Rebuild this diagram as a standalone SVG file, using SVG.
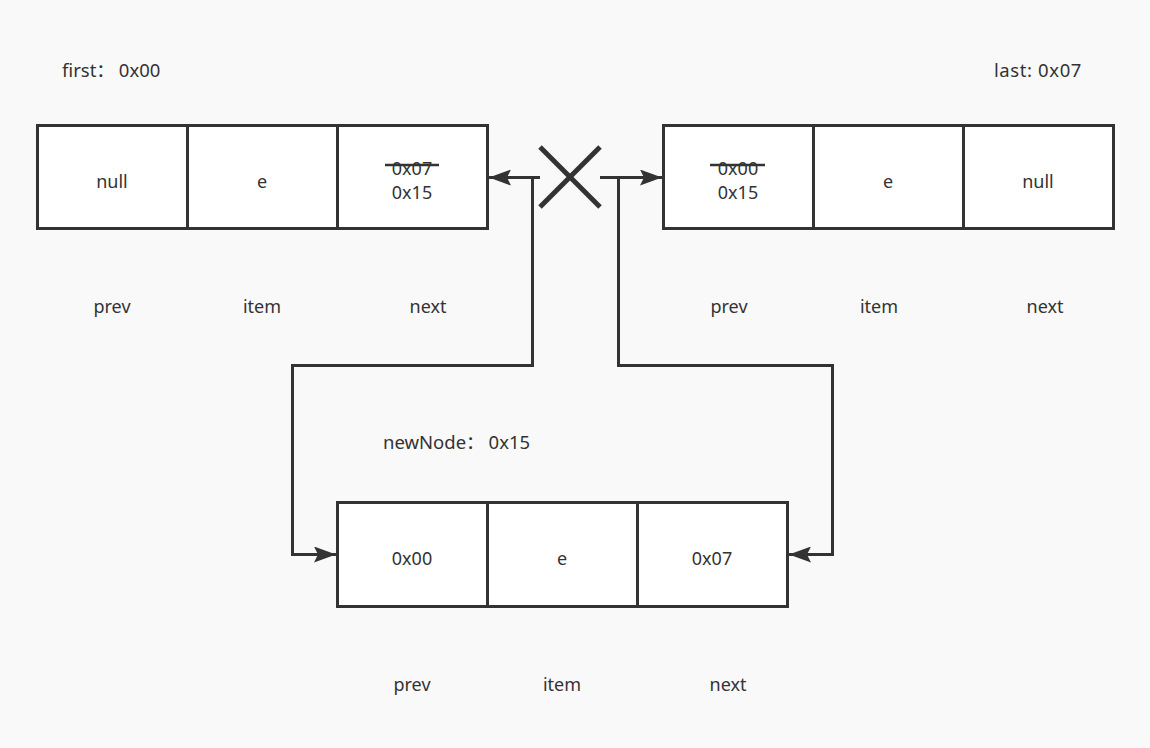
<svg xmlns="http://www.w3.org/2000/svg" width="1150" height="748" viewBox="0 0 1150 748">
<defs>
<style>
.cell{fill:#ffffff;stroke:#333333;stroke-width:3}
.t{font-family:"Noto Sans","Liberation Sans","Noto Sans CJK SC",sans-serif;font-size:18px;fill:#333333;text-anchor:middle;dominant-baseline:central}
.tl{font-family:"Noto Sans","Liberation Sans","Noto Sans CJK SC",sans-serif;font-size:18.5px;fill:#333333;dominant-baseline:central}
.ln{fill:none;stroke:#333333;stroke-width:3}
.strike{stroke:#333333;stroke-width:2.5}
</style>
<marker id="arr" viewBox="0 0 22 16" refX="22" refY="8" markerWidth="22" markerHeight="16" markerUnits="userSpaceOnUse" orient="auto">
<path d="M0,0 L22,8 L0,16 L4,8 Z" fill="#333333"/>
</marker>
</defs>
<rect width="1150" height="748" fill="#f9f9f9"/>

<text class="tl" x="62" y="69">first：<tspan dx="4">0x00</tspan></text>
<text class="tl" x="994" y="69" letter-spacing="0.6">last: 0x07</text>
<text class="tl" x="383" y="441">newNode：<tspan dx="4">0x15</tspan></text>

<g id="first-node">
<rect class="cell" x="37.5" y="125.5" width="150" height="103"/>
<rect class="cell" x="187.5" y="125.5" width="150" height="103"/>
<rect class="cell" x="337.5" y="125.5" width="150" height="103"/>
<text class="t" x="112" y="181">null</text>
<text class="t" x="262" y="181">e</text>
<text class="t" x="412" y="168">0x07</text>
<line class="strike" x1="385" y1="165" x2="439" y2="165"/>
<text class="t" x="412" y="192">0x15</text>
<text class="t" x="112" y="306">prev</text>
<text class="t" x="262" y="306">item</text>
<text class="t" x="428" y="306">next</text>
</g>

<g id="last-node">
<rect class="cell" x="663.5" y="125.5" width="150" height="103"/>
<rect class="cell" x="813.5" y="125.5" width="150" height="103"/>
<rect class="cell" x="963.5" y="125.5" width="150" height="103"/>
<text class="t" x="738" y="168">0x00</text>
<line class="strike" x1="710" y1="165" x2="765" y2="165"/>
<text class="t" x="738" y="192">0x15</text>
<text class="t" x="888" y="181">e</text>
<text class="t" x="1038" y="181">null</text>
<text class="t" x="729" y="306">prev</text>
<text class="t" x="879" y="306">item</text>
<text class="t" x="1045" y="306">next</text>
</g>

<g id="new-node">
<rect class="cell" x="337.5" y="502.5" width="150" height="104"/>
<rect class="cell" x="487.5" y="502.5" width="150" height="104"/>
<rect class="cell" x="637.5" y="502.5" width="150" height="104"/>
<text class="t" x="412" y="558">0x00</text>
<text class="t" x="562" y="558">e</text>
<text class="t" x="712" y="558">0x07</text>
<text class="t" x="412" y="684">prev</text>
<text class="t" x="562" y="684">item</text>
<text class="t" x="728" y="684">next</text>
</g>

<g id="broken-mark">
<line x1="540" y1="147" x2="600" y2="207" stroke="#333333" stroke-width="5"/>
<line x1="600" y1="147" x2="540" y2="207" stroke="#333333" stroke-width="5"/>
</g>

<g id="connectors">
<polyline class="ln" points="540,177.5 489,177.5" marker-end="url(#arr)"/>
<polyline class="ln" points="532.5,177.5 532.5,365.5 292.5,365.5 292.5,554.5 336,554.5" marker-end="url(#arr)"/>
<polyline class="ln" points="600,177.5 662,177.5" marker-end="url(#arr)"/>
<polyline class="ln" points="618.5,177.5 618.5,365.5 832.5,365.5 832.5,554.5 789,554.5" marker-end="url(#arr)"/>
</g>
</svg>
